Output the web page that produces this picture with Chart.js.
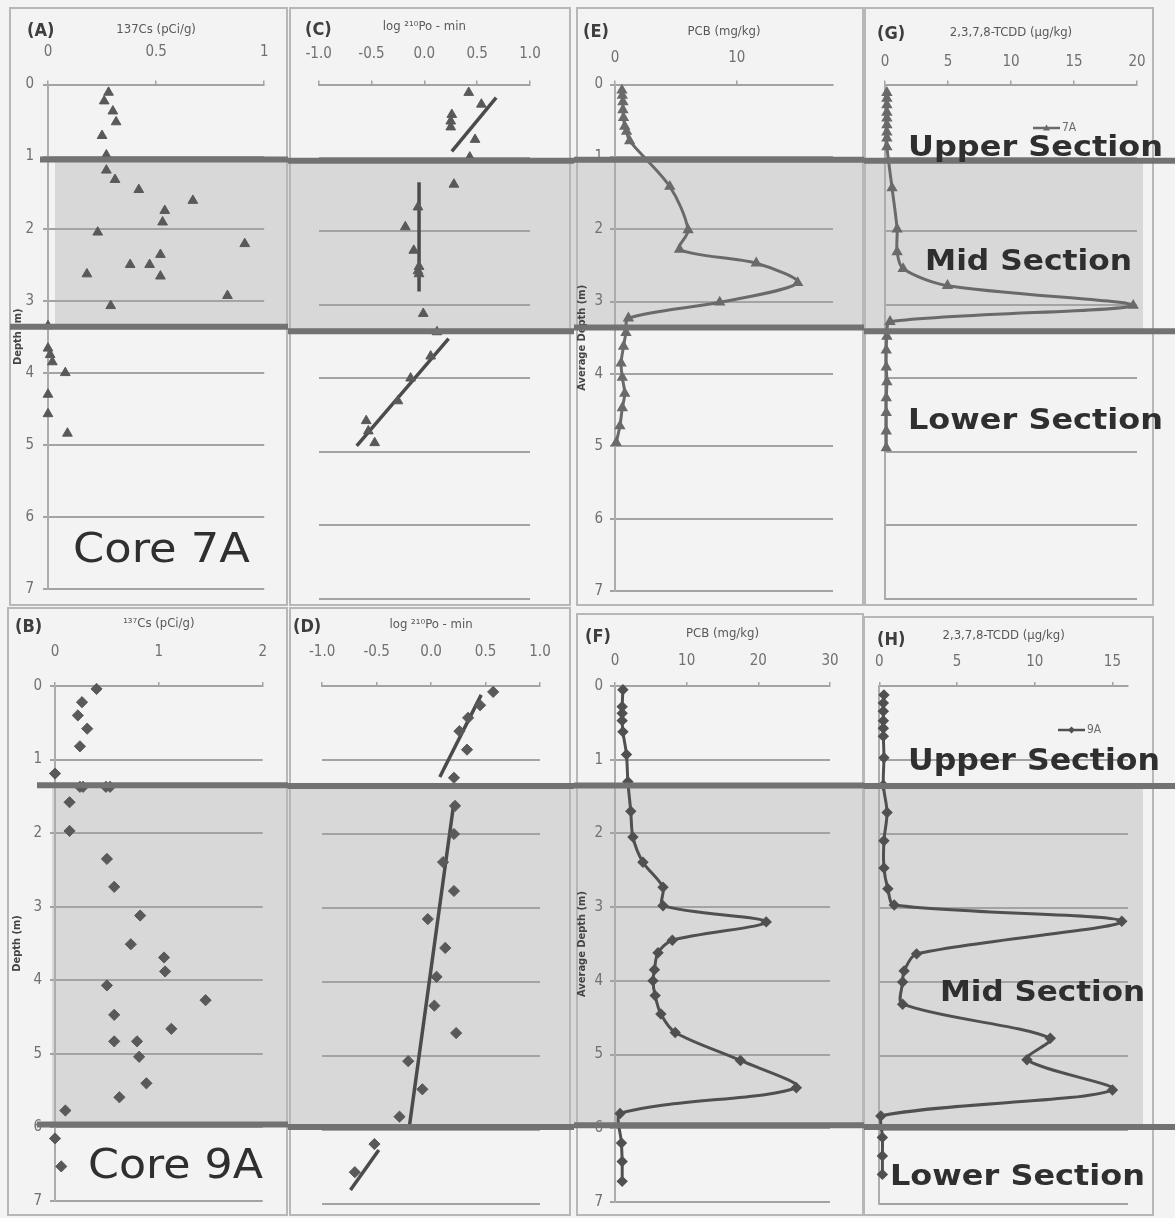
<!DOCTYPE html>
<html>
<head>
<meta charset="utf-8">
<title>Core 7A / Core 9A depth profiles</title>
<script src="https://cdn.jsdelivr.net/npm/chart.js@4.4.1/dist/chart.umd.min.js"></script>
<style>
  html, body { margin: 0; padding: 0; background: #f3f3f3; }
  #figure { position: relative; width: 1175px; height: 1218px; overflow: hidden; }
  #figure canvas { position: absolute; }
  .note { position: absolute; white-space: nowrap; line-height: 1; color: #2f2f2f; transform-origin: 0 0; font-family: "DejaVu Sans", sans-serif; }
  .section { font-weight: bold; }
</style>
</head>
<body>
<div id="figure"></div>
<script>
// ---------- Core 7A ----------
const cs7aDepth = [0.11, 0.23, 0.37, 0.52, 0.71, 0.98, 1.19, 1.32, 1.46, 1.61, 1.75, 1.91, 2.05, 2.21, 2.36,
                   2.50, 2.50, 2.66, 2.63, 2.93, 3.07, 3.35, 3.66, 3.75, 3.85, 4.00, 4.30, 4.57, 4.84];
const cs7aValue = [0.28, 0.26, 0.30, 0.315, 0.25, 0.27, 0.27, 0.31, 0.42, 0.67, 0.54, 0.53, 0.23, 0.91, 0.52,
                   0.38, 0.47, 0.52, 0.18, 0.83, 0.29, 0.0, 0.0, 0.01, 0.02, 0.08, 0.0, 0.0, 0.09];

const po7aDepth = [0.11, 0.27, 0.41, 0.50, 0.58, 0.75, 0.99, 1.36, 1.67, 1.94, 2.26, 2.48, 2.54, 2.58, 3.12,
                   3.37, 3.70, 4.00, 4.31, 4.58, 4.72, 4.88];
const po7aValue = [0.42, 0.54, 0.26, 0.25, 0.25, 0.48, 0.43, 0.28, -0.06, -0.18, -0.10, -0.05, -0.06, -0.05, -0.01,
                   0.12, 0.06, -0.13, -0.25, -0.55, -0.53, -0.47];
// fitted segments per section: [start, end]
const po7aFitDepth = [[0.18, 0.91], [1.33, 2.82], [3.46, 4.92]];
const po7aFitValue = [[0.68, 0.26], [-0.05, -0.05], [0.23, -0.64]];

const pcb7aDepth = [0.08, 0.15, 0.24, 0.35, 0.46, 0.58, 0.65, 0.78, 1.41, 2.01, 2.28, 2.47, 2.74, 3.01, 3.23,
                    3.43, 3.62, 3.85, 4.05, 4.27, 4.47, 4.72, 4.95];
const pcb7aValue = [0.57, 0.6, 0.65, 0.65, 0.7, 0.8, 0.95, 1.2, 4.5, 6.0, 5.3, 11.6, 15.0, 8.6, 1.1,
                    0.9, 0.7, 0.5, 0.6, 0.8, 0.6, 0.4, 0.1];

const tcdd7aDepth = [0.11, 0.19, 0.28, 0.38, 0.46, 0.55, 0.65, 0.73, 0.85, 1.41, 1.97, 2.28, 2.51, 2.74, 3.01, 3.23,
                     3.43, 3.62, 3.85, 4.05, 4.27, 4.47, 4.72, 4.95];
const tcdd7aValue = [0.15, 0.15, 0.15, 0.15, 0.15, 0.15, 0.15, 0.15, 0.15, 0.56, 0.96, 0.96, 1.44, 4.96, 19.7, 0.4,
                     0.15, 0.1, 0.1, 0.15, 0.1, 0.1, 0.1, 0.1];

// ---------- Core 9A ----------
const cs9aDepth = [0.04, 0.22, 0.40, 0.58, 0.82, 1.19, 1.37, 1.37, 1.37, 1.37, 1.58, 1.97, 2.35, 2.73, 3.12,
                   3.51, 3.69, 3.88, 4.07, 4.27, 4.47, 4.66, 4.83, 4.83, 5.04, 5.40, 5.59, 5.77, 6.15, 6.53];
const cs9aValue = [0.40, 0.26, 0.22, 0.31, 0.24, 0.0, 0.24, 0.27, 0.49, 0.53, 0.14, 0.14, 0.50, 0.57, 0.82,
                   0.73, 1.05, 1.06, 0.50, 1.45, 0.57, 1.12, 0.57, 0.79, 0.81, 0.88, 0.62, 0.10, 0.0, 0.06];

const po9aDepth = [0.08, 0.26, 0.43, 0.61, 0.86, 1.24, 1.62, 2.00, 2.38, 2.77, 3.15, 3.54, 3.93, 4.32, 4.69,
                   5.07, 5.45, 5.82, 6.19, 6.57];
const po9aValue = [0.57, 0.45, 0.34, 0.26, 0.33, 0.21, 0.22, 0.21, 0.11, 0.21, -0.03, 0.13, 0.05, 0.03, 0.23,
                   -0.21, -0.08, -0.29, -0.52, -0.70];
const po9aFitDepth = [[0.12, 1.23], [1.57, 5.96], [6.27, 6.81]];
const po9aFitValue = [[0.46, 0.08], [0.21, -0.20], [-0.48, -0.74]];

const pcb9aDepth = [0.05, 0.28, 0.37, 0.47, 0.62, 0.93, 1.30, 1.70, 2.05, 2.39, 2.73, 2.98, 3.20, 3.45, 3.62,
                    3.85, 4.00, 4.20, 4.45, 4.70, 5.08, 5.45, 5.80, 6.20, 6.45, 6.72];
const pcb9aValue = [1.1, 1.0, 1.0, 1.0, 1.1, 1.6, 1.8, 2.2, 2.5, 3.9, 6.7, 6.7, 21.1, 8.0, 6.0,
                    5.5, 5.3, 5.6, 6.4, 8.4, 17.5, 25.3, 0.7, 0.9, 1.0, 1.0];

const tcdd9aDepth = [0.12, 0.23, 0.34, 0.47, 0.57, 0.68, 0.97, 1.34, 1.71, 2.09, 2.46, 2.74, 2.96, 3.18, 3.62,
                     3.85, 4.00, 4.30, 4.76, 5.05, 5.46, 5.81, 6.10, 6.35, 6.60];
const tcdd9aValue = [0.3, 0.26, 0.26, 0.26, 0.26, 0.26, 0.3, 0.26, 0.5, 0.3, 0.3, 0.55, 0.96, 15.6, 2.4,
                     1.6, 1.5, 1.5, 11.0, 9.5, 15.0, 0.1, 0.2, 0.2, 0.2];

// section boundaries (m): upper/mid, mid/lower
const sections7A = [1.04, 3.36];
const sections9A = [1.35, 5.96];

const NARROW = '"Liberation Sans Narrow", "DejaVu Sans Condensed", "Arial Narrow", sans-serif';
const GRID = '#a3a3a3';

const pts = (depths, values) => depths.map((d, i) => ({ x: values[i], y: d }));

const scatterSet = (depths, values, style) => ({
    data: pts(depths, values),
    pointStyle: style,
    pointRadius: 5.6,
    backgroundColor: '#595959',
    borderColor: '#595959',
    borderWidth: 1,
    showLine: false,
    clip: false,
});
const fitSets = (fd, fv) => fd.map((d, i) => ({
    data: pts(d, fv[i]),
    showLine: true,
    pointRadius: 0,
    borderColor: '#4b4b4b',
    borderWidth: 3.5,
    clip: false,
}));
const profileSet = (depths, values, style, color) => ({
    data: pts(depths, values),
    showLine: true,
    tension: 0.3,
    pointStyle: style,
    pointRadius: 3.6,
    backgroundColor: color,
    borderColor: color,
    borderWidth: 3,
    clip: false,
});

// page rows: vertical position of depth 0 and 7
const rows = {
    top:    { y: 0,   h: 607, zero: 84.5, seven: 598.5, shade: [55, 1143], lineStart: [40, 10], sections: sections7A },
    bottom: { y: 607, h: 611, zero: 686,  seven: 1204,  shade: [52, 1143], lineStart: [37, 37], sections: sections9A },
};

const panels = [
    { row: 'top', x: 0, w: 288, left: 48, right: 274, frame: [10, 8, 287, 605],
      tag: '(A)', tagAt: [27, 31], title: '137Cs (pCi/g)', titleY: 30, tickY: 52,
      xMin: 0, xMax: 1, xStep: 0.5, yTicks: true, yTickRight: 34, yTitle: 'Depth (m)', yTitleX: 18, yBorder: true,
      datasets: [scatterSet(cs7aDepth, cs7aValue, 'triangle')] },
    { row: 'top', x: 288, w: 286, left: 315, right: 530, frame: [290, 8, 570, 605],
      tag: '(C)', tagAt: [305, 30], title: 'log ²¹⁰Po - min', titleY: 27, tickY: 54,
      xMin: -1, xMax: 1, xStep: 0.5, fixed: 1, yTicks: false, yBorder: false,
      datasets: [scatterSet(po7aDepth, po7aValue, 'triangle'), ...fitSets(po7aFitDepth, po7aFitValue)] },
    { row: 'top', x: 574, w: 290, left: 615, right: 833, frame: [577, 8, 863, 605],
      tag: '(E)', tagAt: [583, 32], title: 'PCB (mg/kg)', titleY: 32, tickY: 58,
      xMin: 0, xMax: 17.9, xStep: 10, yTicks: true, yTickRight: 603, yTitle: 'Average Depth (m)', yTitleX: 582, yBorder: true,
      datasets: [profileSet(pcb7aDepth, pcb7aValue, 'triangle', '#6a6a6a')] },
    { row: 'top', x: 864, w: 311, left: 885, right: 1137, frame: [865, 8, 1153, 605],
      tag: '(G)', tagAt: [877, 34], title: '2,3,7,8-TCDD (µg/kg)', titleY: 33, tickY: 62,
      xMin: 0, xMax: 20, xStep: 5, yTicks: false, yBorder: true,
      key: { at: [1033, 128], text: '7A' },
      datasets: [profileSet(tcdd7aDepth, tcdd7aValue, 'triangle', '#6a6a6a')] },

    { row: 'bottom', x: 0, w: 288, left: 55, right: 265, frame: [8, 608, 287, 1215],
      tag: '(B)', tagAt: [15, 627], title: '¹³⁷Cs (pCi/g)', titleY: 624, tickY: 652,
      xMin: 0, xMax: 2, xStep: 1, yTicks: true, yTickRight: 42, yTitle: 'Depth (m)', yTitleX: 17, yBorder: true,
      datasets: [scatterSet(cs9aDepth, cs9aValue, 'rectRot')] },
    { row: 'bottom', x: 288, w: 286, left: 307, right: 540, frame: [290, 608, 570, 1215],
      tag: '(D)', tagAt: [293, 627], title: 'log ²¹⁰Po - min', titleY: 625, tickY: 652,
      xMin: -1, xMax: 1, xStep: 0.5, fixed: 1, yTicks: false, yBorder: false,
      datasets: [scatterSet(po9aDepth, po9aValue, 'rectRot'), ...fitSets(po9aFitDepth, po9aFitValue)] },
    { row: 'bottom', x: 574, w: 290, left: 615, right: 830, frame: [577, 614, 863, 1215],
      tag: '(F)', tagAt: [585, 637], title: 'PCB (mg/kg)', titleY: 634, tickY: 661,
      xMin: 0, xMax: 30, xStep: 10, yTicks: true, yTickRight: 603, yTitle: 'Average Depth (m)', yTitleX: 582, yBorder: true,
      datasets: [profileSet(pcb9aDepth, pcb9aValue, 'rectRot', '#505050')] },
    { row: 'bottom', x: 864, w: 311, left: 878, right: 1128, frame: [864, 617, 1153, 1215],
      tag: '(H)', tagAt: [877, 640], title: '2,3,7,8-TCDD (µg/kg)', titleY: 636, tickY: 662,
      xMin: 0, xMax: 16, xStep: 5, yTicks: false, yBorder: true,
      key: { at: [1058, 730], text: '9A' },
      datasets: [profileSet(tcdd9aDepth, tcdd9aValue, 'rectRot', '#505050')] },
];

// grey mid-section band, panel frame, section boundary bars and the panel tag
const coreSections = {
    id: 'coreSections',
    beforeDraw(chart, args, o) {
        const { ctx } = chart, y = chart.scales.y;
        const y0 = y.getPixelForValue(o.depths[0]), y1 = y.getPixelForValue(o.depths[1]);
        ctx.save();
        ctx.fillStyle = '#d8d8d8';
        ctx.fillRect(o.shade[0], y0, o.shade[1] - o.shade[0], y1 - y0);
        ctx.strokeStyle = '#b7b7b7';
        ctx.lineWidth = 2;
        const f = o.frame;
        ctx.strokeRect(f[0], f[1], f[2] - f[0], f[3] - f[1]);
        ctx.restore();
    },
    afterDraw(chart, args, o) {
        const { ctx } = chart, y = chart.scales.y;
        ctx.save();
        ctx.strokeStyle = '#727272';
        ctx.lineWidth = 6;
        o.depths.forEach((d, i) => {
            const py = y.getPixelForValue(d);
            ctx.beginPath();
            ctx.moveTo(o.lineStart[i], py);
            ctx.lineTo(chart.width, py);
            ctx.stroke();
        });
        ctx.fillStyle = '#3e3e3e';
        ctx.font = 'bold 18px ' + NARROW;
        ctx.textBaseline = 'middle';
        ctx.fillText(o.tag, o.tagAt[0], o.tagAt[1]);
        ctx.restore();
    }
};

// little series key: line with a marker, then the core name
const seriesKey = {
    id: 'seriesKey',
    afterDraw(chart, args, o) {
        if (!o || !o.text) return;
        const { ctx } = chart, ds = chart.data.datasets[0];
        const [x, y] = o.at;
        ctx.save();
        ctx.strokeStyle = ds.borderColor;
        ctx.fillStyle = ds.borderColor;
        ctx.lineWidth = 2.5;
        ctx.beginPath();
        ctx.moveTo(x, y);
        ctx.lineTo(x + 27, y);
        ctx.stroke();
        const mx = x + 13.5, r = 3.5;
        ctx.beginPath();
        if (ds.pointStyle === 'triangle') {
            ctx.moveTo(mx, y - r); ctx.lineTo(mx + r, y + r * 0.7); ctx.lineTo(mx - r, y + r * 0.7);
        } else {
            ctx.moveTo(mx, y - r); ctx.lineTo(mx + r, y); ctx.lineTo(mx, y + r); ctx.lineTo(mx - r, y);
        }
        ctx.closePath();
        ctx.fill();
        ctx.fillStyle = '#6c6c6c';
        ctx.font = '12px ' + NARROW;
        ctx.textBaseline = 'middle';
        ctx.fillText(o.text, x + 29, y);
        ctx.restore();
    }
};

const fig = document.getElementById('figure');

panels.forEach(p => {
    const row = rows[p.row];
    const cx = p.x, cy = row.y;
    const titleSize = 13, tickSize = 15, yTitleSize = 11, xTickLen = 4, yTickLen = p.yTicks ? 5 : 0;
    const padTop = p.titleY - cy - 0.6 * titleSize;
    const xh = row.zero - cy - padTop;
    const padLeft = p.yTitle ? p.yTitleX - cx - 0.6 * yTitleSize : 2;
    const yw = p.left - cx - padLeft;

    const canvas = document.createElement('canvas');
    canvas.width = p.w;
    canvas.height = row.h;
    canvas.style.left = cx + 'px';
    canvas.style.top = cy + 'px';
    fig.appendChild(canvas);

    new Chart(canvas, {
        type: 'scatter',
        data: { datasets: p.datasets },
        plugins: [coreSections, seriesKey],
        options: {
            responsive: false,
            animation: false,
            events: [],
            layout: { padding: { top: padTop, left: padLeft, right: cx + p.w - p.right, bottom: cy + row.h - row.seven } },
            plugins: {
                legend: { display: false },
                tooltip: { enabled: false },
                coreSections: {
                    depths: row.sections,
                    shade: row.shade.map(v => v - cx),
                    lineStart: row.lineStart.map(v => v - cx),
                    frame: [p.frame[0] - cx, p.frame[1] - cy, p.frame[2] - cx, p.frame[3] - cy],
                    tag: p.tag,
                    tagAt: [p.tagAt[0] - cx, p.tagAt[1] - cy],
                },
                seriesKey: p.key ? { at: [p.key.at[0] - cx, p.key.at[1] - cy], text: p.key.text } : {},
            },
            scales: {
                x: {
                    type: 'linear', position: 'top', min: p.xMin, max: p.xMax,
                    grid: { drawOnChartArea: false, tickLength: xTickLen, color: GRID, lineWidth: 1.5 },
                    border: { color: GRID, width: 2 },
                    ticks: {
                        stepSize: p.xStep, includeBounds: false, maxRotation: 0, autoSkip: false,
                        padding: row.zero - p.tickY - xTickLen - 0.6 * tickSize,
                        font: { family: NARROW, size: tickSize }, color: '#707070',
                        callback: v => p.fixed ? v.toFixed(p.fixed) : v,
                    },
                    title: { display: true, text: p.title, padding: 0, font: { family: NARROW, size: titleSize }, color: '#585858' },
                    afterFit: s => { s.height = xh; },
                },
                y: {
                    type: 'linear', reverse: true, min: 0, max: 7,
                    grid: { color: GRID, lineWidth: 2, tickLength: yTickLen, drawTicks: p.yTicks },
                    border: { display: p.yBorder, color: '#acacac', width: 2 },
                    ticks: {
                        display: p.yTicks, stepSize: 1,
                        padding: p.yTicks ? p.left - p.yTickRight - yTickLen : 0,
                        font: { family: NARROW, size: tickSize }, color: '#707070',
                    },
                    title: { display: !!p.yTitle, text: p.yTitle || '', padding: 0, font: { family: NARROW, size: yTitleSize, weight: 'bold' }, color: '#444' },
                    afterFit: s => { s.width = yw; },
                },
            },
        },
    });
});

// section names and core names written over the panels
const notes = [
    { text: 'Upper Section', x: 908, base: 157, width: 255, size: 28, bold: true },
    { text: 'Mid Section',   x: 925, base: 271, width: 207, size: 29, bold: true },
    { text: 'Lower Section', x: 908, base: 430, width: 255, size: 29, bold: true },
    { text: 'Upper Section', x: 908, base: 770, width: 252, size: 30, bold: true },
    { text: 'Mid Section',   x: 940, base: 1002, width: 205, size: 29, bold: true },
    { text: 'Lower Section', x: 890, base: 1186, width: 255, size: 29, bold: true },
    { text: 'Core 7A', x: 73, base: 562, width: 177, size: 40, bold: false },
    { text: 'Core 9A', x: 88, base: 1178, width: 175, size: 40, bold: false },
];
notes.forEach(n => {
    const el = document.createElement('div');
    el.className = 'note' + (n.bold ? ' section' : '');
    el.textContent = n.text;
    el.style.fontSize = n.size + 'px';
    fig.appendChild(el);
    const natural = el.getBoundingClientRect().width;
    el.style.left = n.x + 'px';
    el.style.top = (n.base - 0.846 * n.size) + 'px';
    el.style.transform = 'scaleX(' + (n.width / natural).toFixed(3) + ')';
});
</script>
</body>
</html>
